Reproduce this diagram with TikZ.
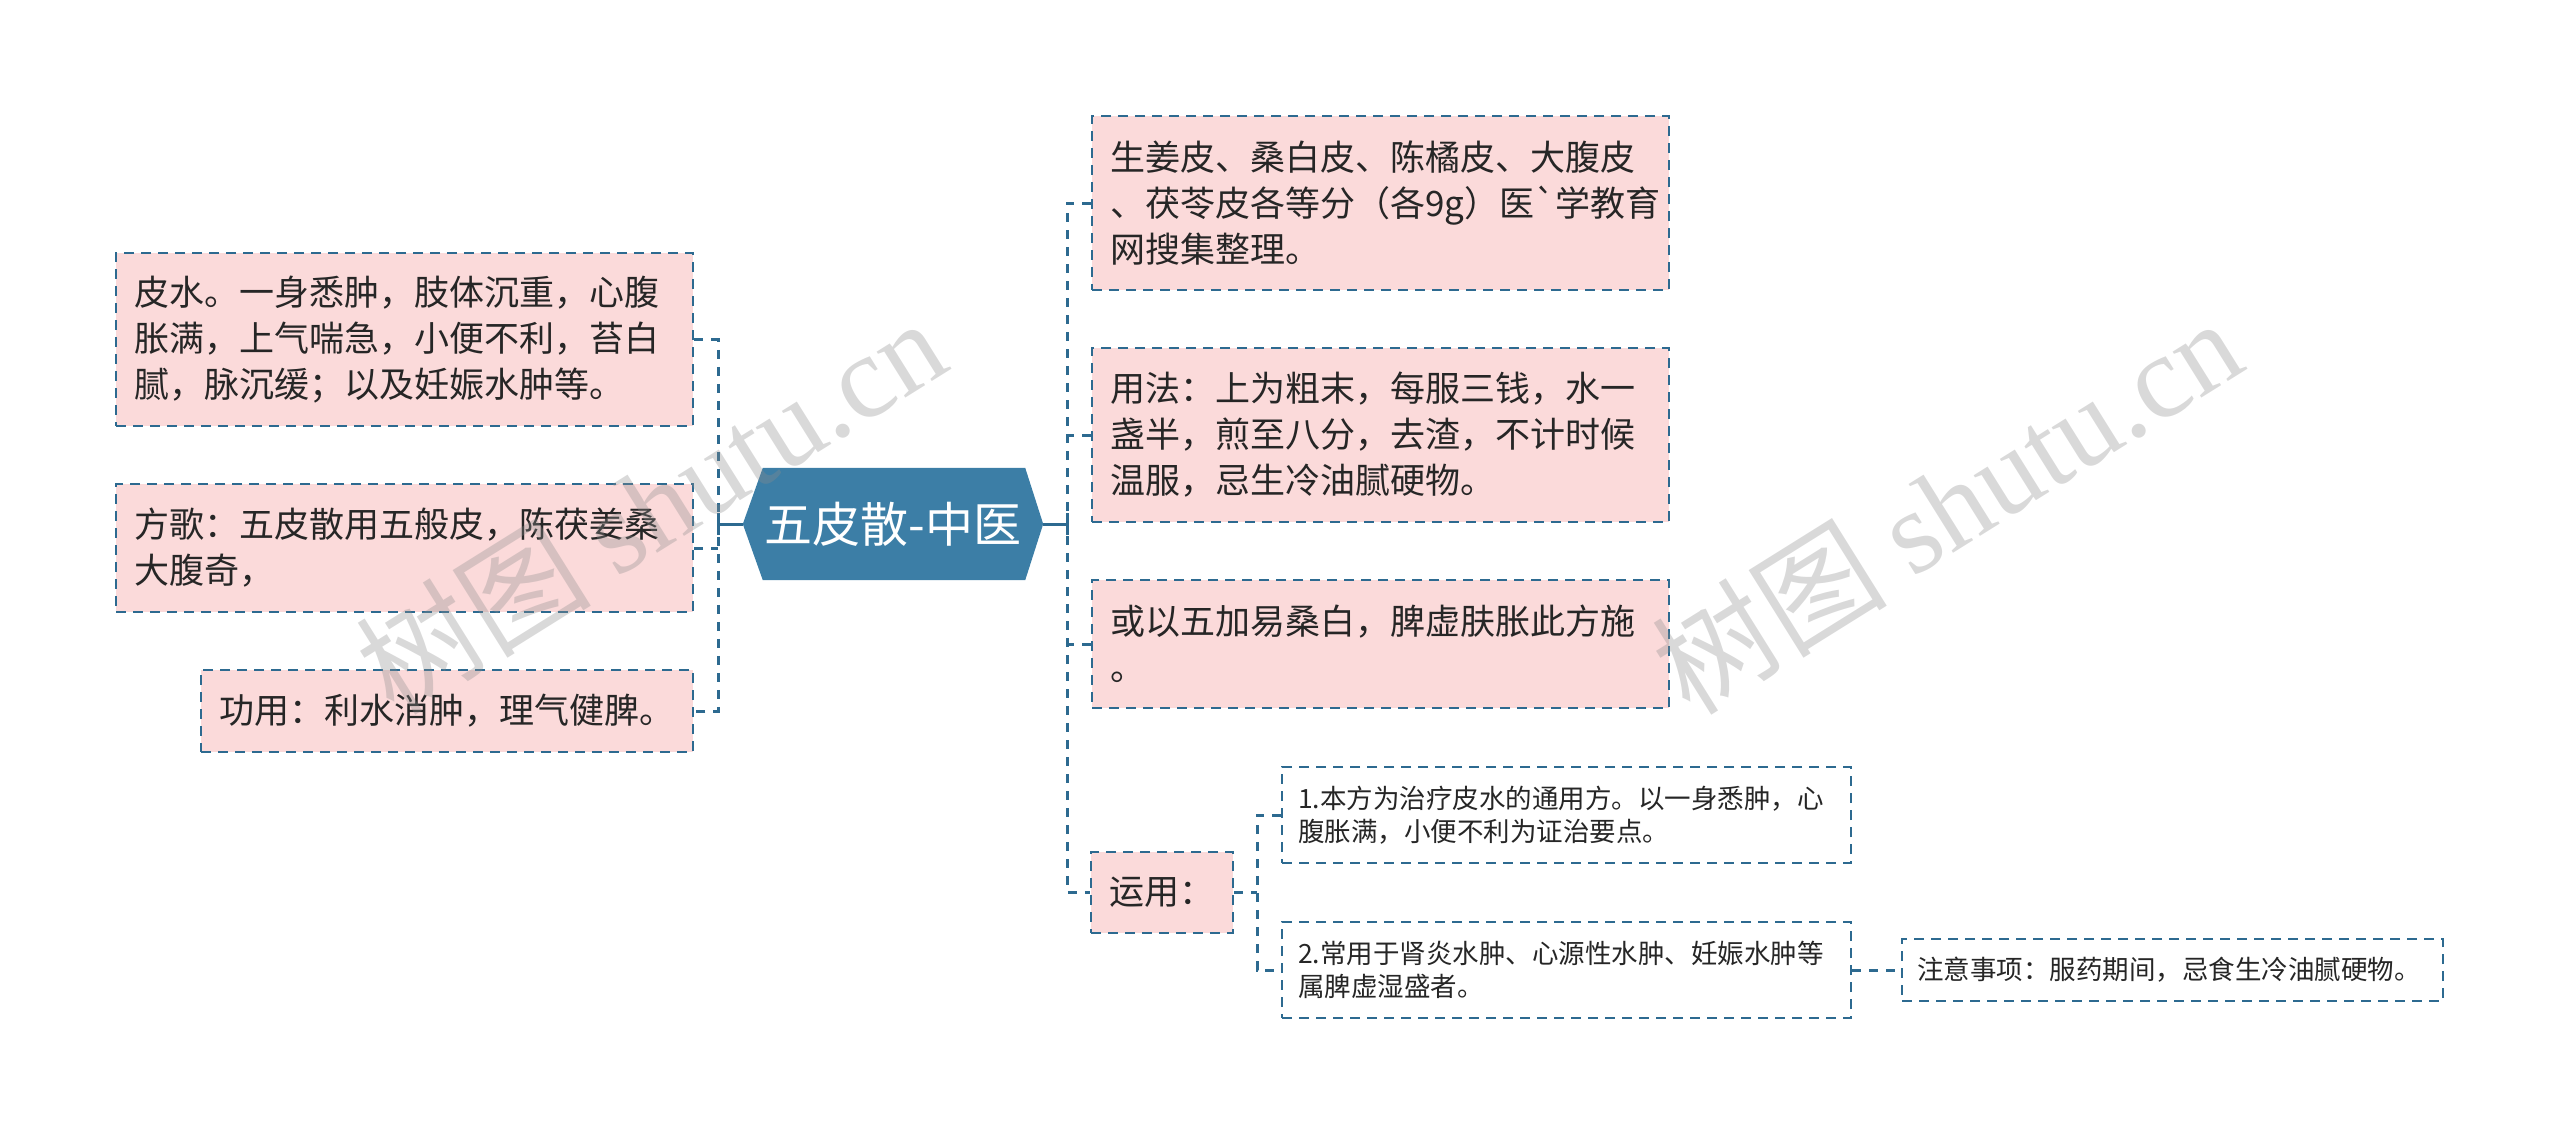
\documentclass[tikz,border=0pt]{standalone}
\usepackage{fontspec}
\setmainfont{Noto Sans CJK SC}
\newfontfamily\wmserif{Liberation Serif}
\newfontfamily\wmcjk{Noto Sans CJK SC}
\usetikzlibrary{backgrounds}
\definecolor{bord}{HTML}{2D6A90}
\definecolor{hexc}{HTML}{3C7EA6}
\definecolor{pinkf}{HTML}{FBDADA}
\definecolor{txt}{HTML}{262626}
\newcommand\grv{\XeTeXglyph\XeTeXcharglyph"60\relax}
\tikzset{
  box/.style={rectangle, draw=bord, line width=2.5pt, dash pattern=on 10pt off 7pt,
    fill=pinkf, text=txt, align=left, inner xsep=18pt, inner ysep=0pt,
    font=\fontsize{35}{46}\selectfont},
  sbox/.style={box, fill=white, inner xsep=16pt, font=\fontsize{26.5}{33}\selectfont},
  conn/.style={draw=bord, line width=3pt, dash pattern=on 9pt off 8pt},
  rootline/.style={draw=bord, line width=3pt},
  wm/.style={text=black!45, text opacity=0.33, rotate=32, inner sep=0pt}
}
\begin{document}
\begin{tikzpicture}[x=1pt, y=-1pt]
\useasboundingbox (0,0) rectangle (2560,1135);
% root
\node[font=\fontsize{48}{52}\selectfont, text=white, minimum width=300pt,
      minimum height=112pt, inner sep=0pt] (root) at (893,524) {五皮散-中医};
\begin{scope}[on background layer]
\fill[hexc] (root.west) -- ([xshift=20pt]root.north west) -- ([xshift=-18pt]root.north east)
  -- (root.east) -- ([xshift=-18pt]root.south east) -- ([xshift=20pt]root.south west) -- cycle;
\end{scope}
% left boxes
\node[box, text width=541pt, minimum height=173pt] (L1) at (404.5,339.5)
  {皮水。一身悉肿，肢体沉重，心腹\\胀满，上气喘急，小便不利，苔白\\腻，脉沉缓；以及妊娠水肿等。};
\node[box, text width=541pt, minimum height=128pt] (L2) at (404.5,548)
  {方歌：五皮散用五般皮，陈茯姜桑\\大腹奇，};
\node[box, text width=456pt, minimum height=82pt] (L3) at (447,711)
  {功用：利水消肿，理气健脾。};
% right boxes
\node[box, text width=541pt, minimum height=174pt] (R1) at (1380.5,203)
  {生姜皮、桑白皮、陈橘皮、大腹皮\\、茯苓皮各等分（各9g）医\grv 学教育\\网搜集整理。};
\node[box, text width=541pt, minimum height=174pt] (R2) at (1380.5,435)
  {用法：上为粗末，每服三钱，水一\\盏半，煎至八分，去渣，不计时候\\温服，忌生冷油腻硬物。};
\node[box, text width=541pt, minimum height=128pt] (R3) at (1380.5,644)
  {或以五加易桑白，脾虚肤胀此方施\\。};
\node[box, text width=106pt, minimum height=81pt] (R4) at (1162,892.5)
  {运用：};
% sub boxes
\node[sbox, text width=537pt, minimum height=96pt] (C1) at (1566.5,815)
  {1.本方为治疗皮水的通用方。以一身悉肿，心\\腹胀满，小便不利为证治要点。};
\node[sbox, text width=537pt, minimum height=96pt] (C2) at (1566.5,970)
  {2.常用于肾炎水肿、心源性水肿、妊娠水肿等\\属脾虚湿盛者。};
\node[sbox, inner xsep=15pt, text width=511pt, minimum height=62pt] (C3) at (2172.5,970)
  {注意事项：服药期间，忌食生冷油腻硬物。};
% spines
\coordinate (ls) at (718,524);
\coordinate (rs) at (1067,524);
\coordinate (ss) at (1257,892.5);
\draw[rootline] (root.west) -- (ls);
\draw[rootline] ([yshift=-11pt]ls) -- ([yshift=11pt]ls);
\draw[rootline] (root.east) -- (rs);
\draw[rootline] ([yshift=-11pt]rs) -- ([yshift=11pt]rs);
\draw[conn] (L1.east) -- (L1.east -| ls) -- (L3.east -| ls) -- (L3.east);
\draw[conn] (L2.east) -- (L2.east -| ls);
\draw[conn] (R1.west) -- (R1.west -| rs) -- (R4.west -| rs) -- (R4.west);
\draw[conn] (R2.west) -- (R2.west -| rs);
\draw[conn] (R3.west) -- (R3.west -| rs);
\draw[conn] (R4.east) -- (ss);
\draw[conn] (C1.west) -- (C1.west -| ss) -- (C2.west -| ss) -- (C2.west);
\draw[conn] (C2.east) -- (C3.west);
% watermarks
\node[wm] (wm1) at (650,505) {\fontsize{118}{118}\selectfont\wmcjk 树图 \wmserif shutu.cn};
\node[wm] (wm2) at (1946,505) {\fontsize{118}{118}\selectfont\wmcjk 树图 \wmserif shutu.cn};
\end{tikzpicture}
\end{document}
